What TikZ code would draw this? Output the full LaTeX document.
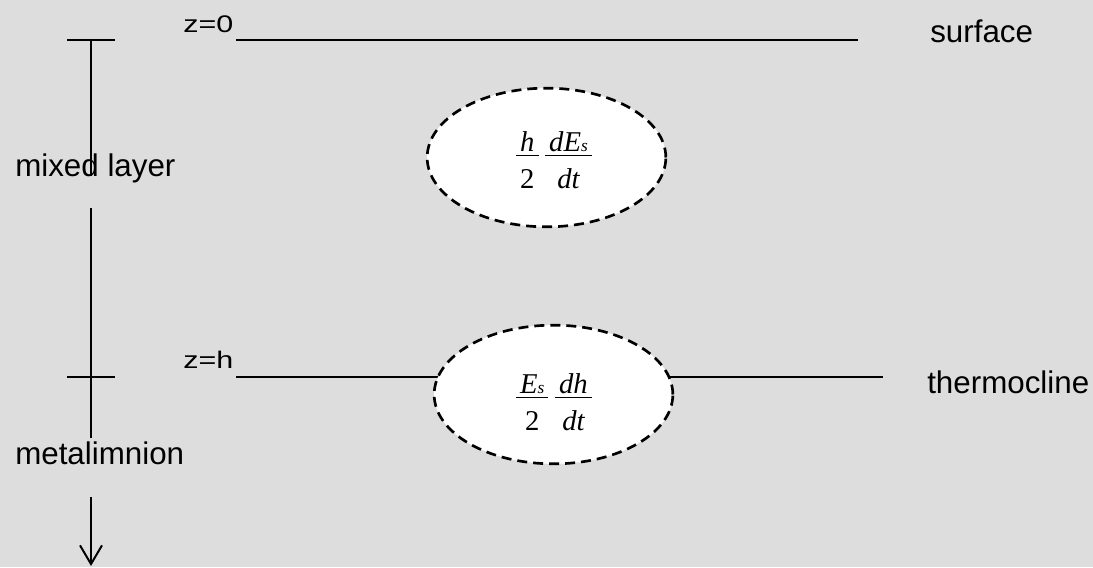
\documentclass[tikz,border=0pt]{standalone}
\usepackage{fontspec}
\setmainfont{Liberation Sans}
\newfontfamily\eqfont{Liberation Serif}
\usepackage{graphicx}
\usepackage{tikz}
\usetikzlibrary{shapes.geometric, arrows.meta}
\usepackage{xcolor}

\definecolor{paper}{RGB}{221,221,221}

% equation-editor style fraction: #1 over #2, sits on the baseline of #2
\newcommand{\eqfrac}[2]{{\renewcommand{\arraystretch}{0}%
  \setlength{\arrayrulewidth}{0.9pt}%
  \begin{tabular}[b]{@{\hspace{3pt}}c@{\hspace{3pt}}}
    #1\rule[-2.5pt]{0pt}{0pt}\\\hline
    \rule{0pt}{24.5pt}#2
  \end{tabular}}}
\newcommand{\sub}[1]{{\fontsize{13}{13}\selectfont #1}}

\begin{document}
\begin{tikzpicture}[x=0.75pt, y=-0.75pt,
  rule/.style={line width=2.2pt},
  pointer/.style={line width=1.5pt, -{Straight Barb[length=14pt, width=16.5pt]}},
  lab/.style={inner sep=0pt, anchor=base west, font=\fontsize{23.5}{28}\selectfont},
  zlab/.style={inner sep=0pt, anchor=base west, font=\fontsize{18}{22}\selectfont},
  bubble/.style={ellipse, draw, fill=white, line width=2pt,
    dash pattern=on 7.5pt off 4.5pt, minimum width=179pt, minimum height=104pt, inner sep=0pt},
  rate/.style={inner sep=0pt, anchor=base, font=\fontsize{21.5}{26}\selectfont\eqfont}]

  % paper
  \fill[paper] (0,0) rectangle (1093,567);

  % ---- depth axis on the left ----
  \coordinate (ax0) at (91,40);
  \coordinate (ax1) at (91,176);
  \coordinate (ax2) at (91,208);
  \coordinate (ax3) at (91,438);
  \coordinate (ar0) at (91,497);
  \coordinate (ar1) at (91,566);
  \foreach \y in {40, 377} {
    \draw[rule] (67,\y) -- (115,\y);
  }
  \draw[rule] (ax0) -- (ax1);
  \draw[rule] (ax2) -- (ax3);
  \draw[pointer] (ar0) -- (ar1);

  \node[lab] (mixed) at (15,177) {mixed layer};
  \node[lab] (meta) at (15,464) {metalimnion};

  % ---- surface, z=0 ----
  \node[zlab] (zzero) at (183,33) {\scalebox{1.27}[1]{z=0}};
  \coordinate (s0) at (236,40);
  \coordinate (s1) at (858,40);
  \draw[rule] (s0) -- (s1);
  \node[lab] (surf) at (930,43) {surface};

  % ---- thermocline, z=h (line runs behind the lower bubble) ----
  \node[zlab] (zh) at (183,368) {\scalebox{1.27}[1]{z=h}};
  \coordinate (t0) at (236,377);
  \coordinate (t1) at (883,377);
  \draw[rule] (t0) -- (t1);
  \node[lab] (thermo) at (927,393) {thermocline};

  % ---- energy terms ----
  \node[bubble] (ell1) at (546.5,157.5) {};
  \node[rate] (rate1) at (554,189)
    {\eqfrac{\itshape h}{2}\hspace{5pt}\eqfrac{\itshape dE\sub{s}}{\itshape dt}};

  \node[bubble] (ell2) at (553.5,394.5) {};
  \node[rate] (rate2) at (554,430.5)
    {\eqfrac{\itshape E\sub{s}}{2}\hspace{5pt}\eqfrac{\itshape dh}{\itshape dt}};

\end{tikzpicture}
\end{document}
